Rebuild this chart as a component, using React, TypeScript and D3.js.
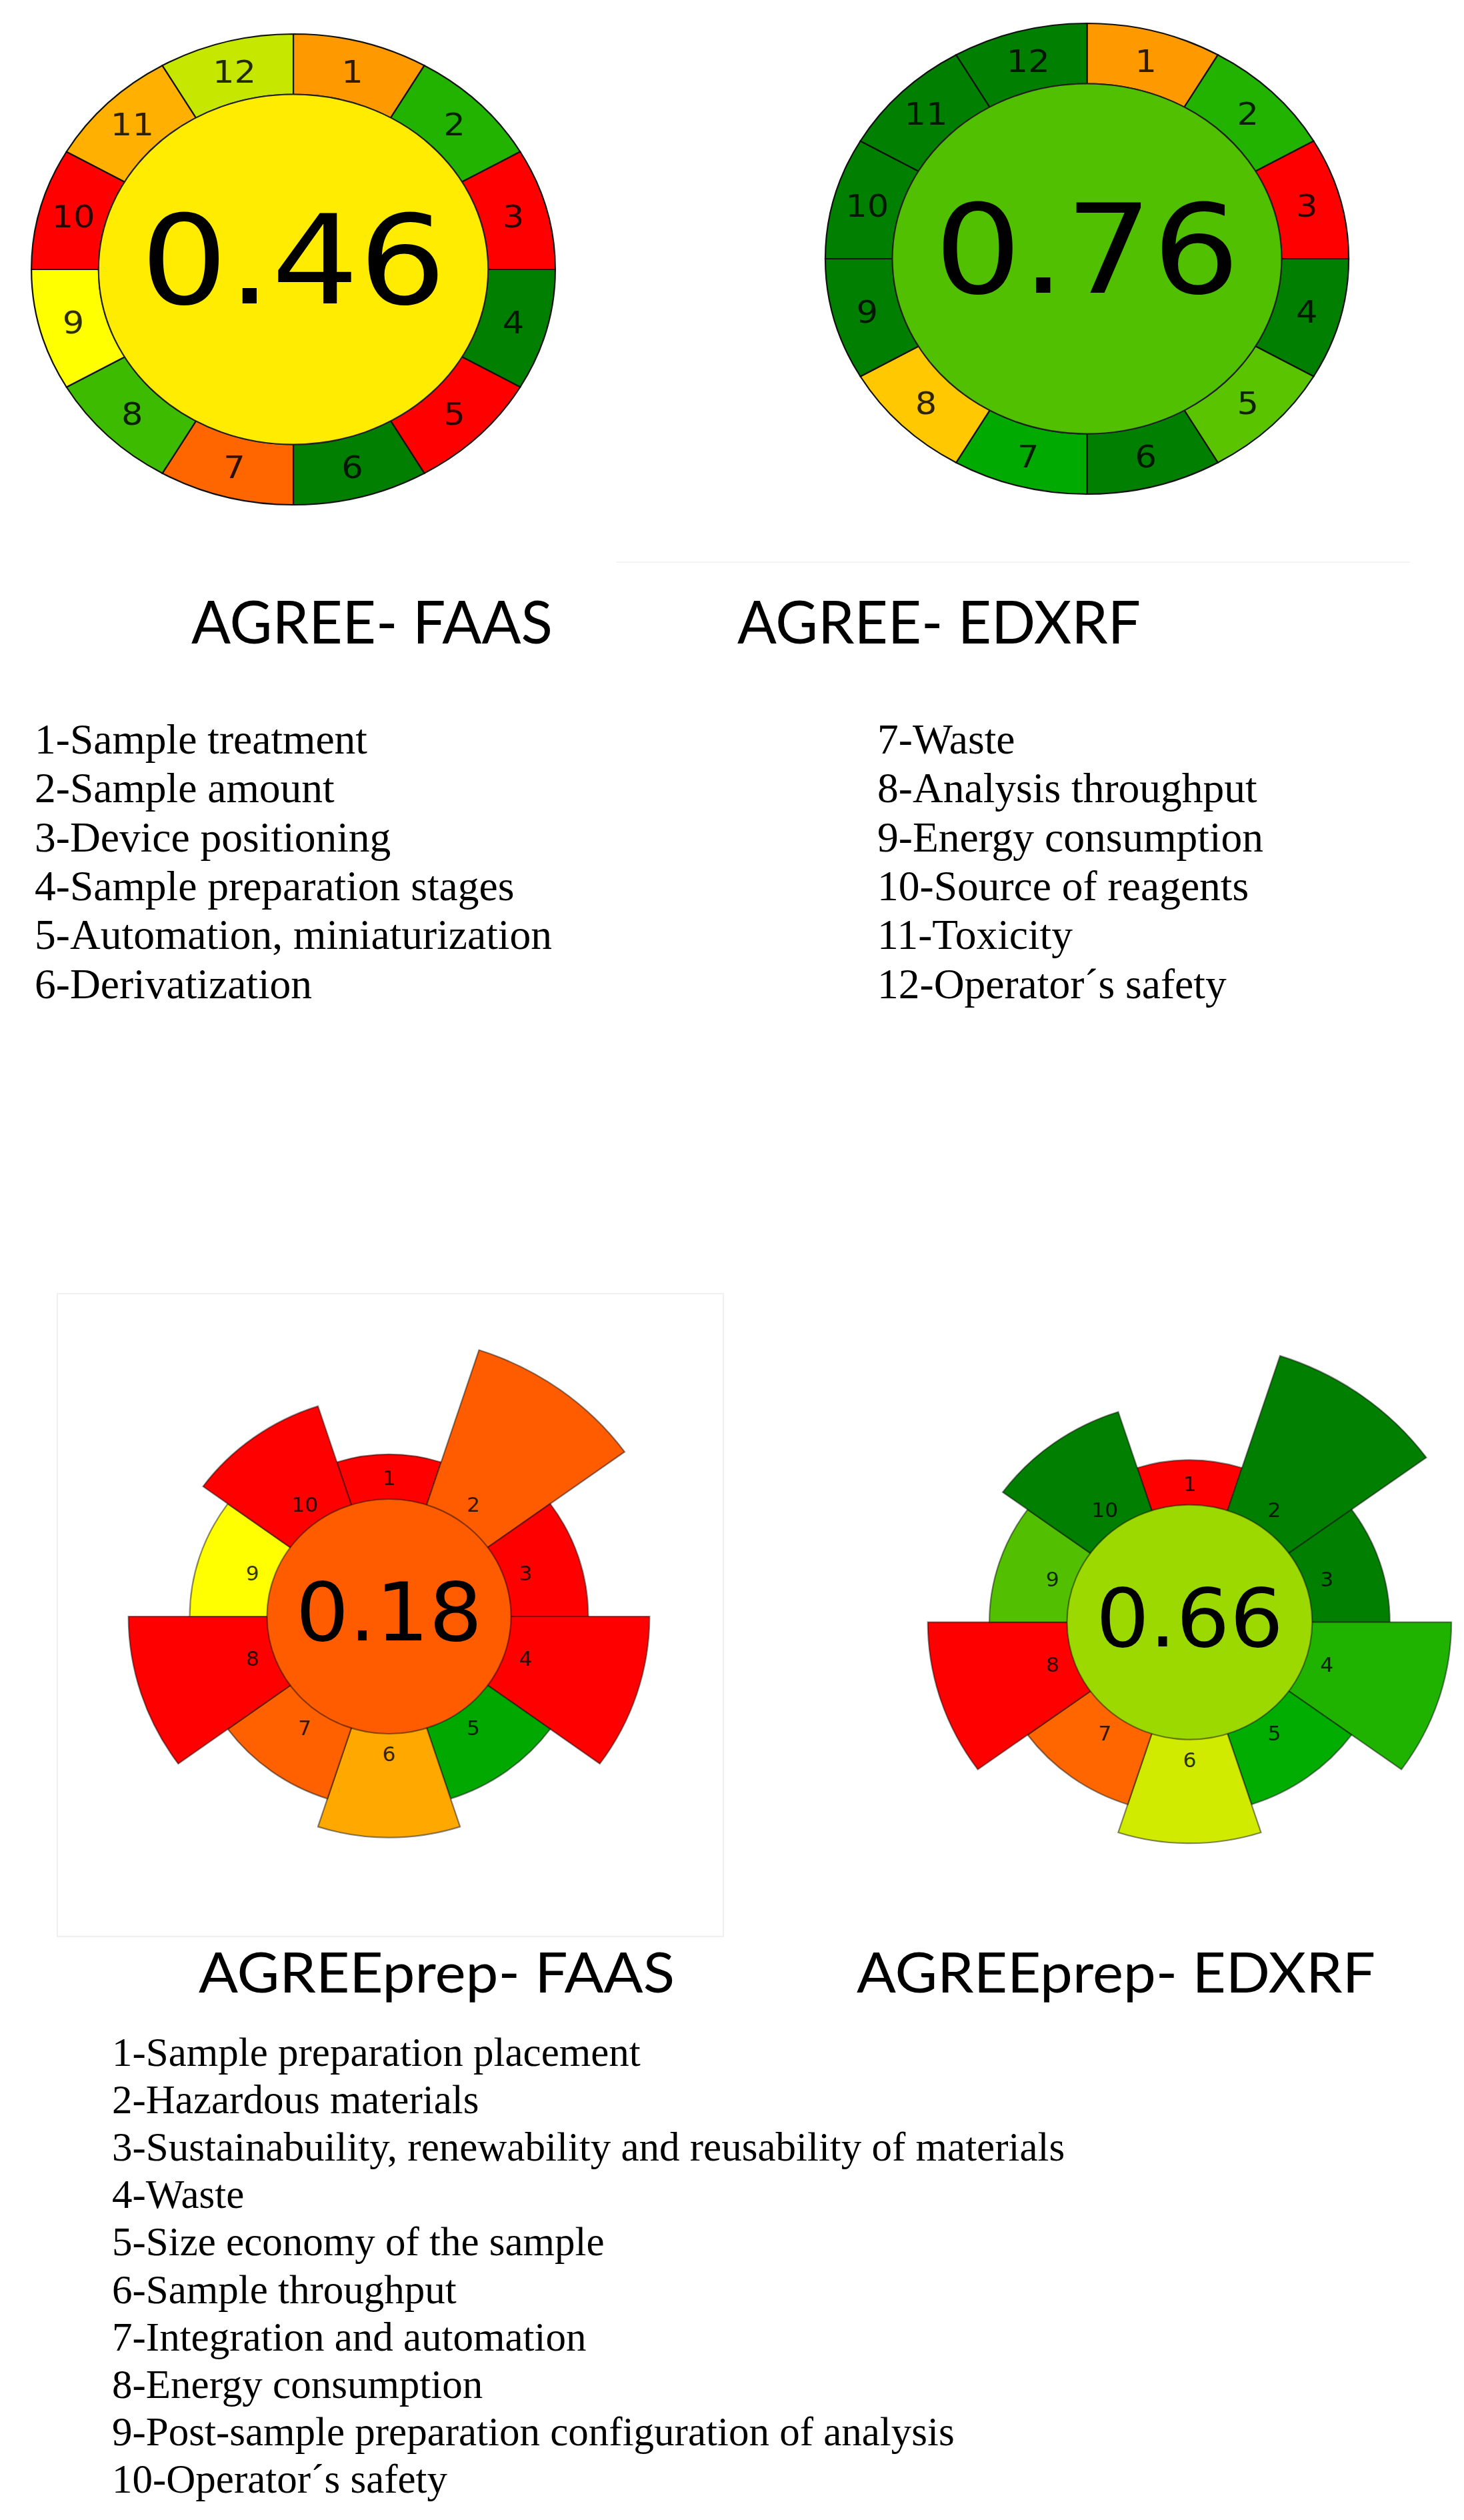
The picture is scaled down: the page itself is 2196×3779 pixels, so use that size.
import React from "react";
import * as d3 from "d3";

// AGREE: 12 criteria, equal segments
const agreeCriteria = ["1", "2", "3", "4", "5", "6", "7", "8", "9", "10", "11", "12"];
const agreeFaasColors = ["#ff9900", "#22b200", "#ff0000", "#007f00", "#ff0000", "#007f00", "#ff6600", "#3dbb00", "#ffff00", "#ff0000", "#ffb000", "#c6e800"];
const agreeEdxrfColors = ["#ff9900", "#22b200", "#ff0000", "#007f00", "#5ac400", "#007f00", "#00aa00", "#ffc800", "#007f00", "#007f00", "#007f00", "#007f00"];
const agreeScores = ["0.46", "0.76"];
const agreeScoreColors = ["#ffec00", "#50c000"];

// AGREEprep: 10 criteria, segment length = weight
const prepCriteria = ["1", "2", "3", "4", "5", "6", "7", "8", "9", "10"];
const prepWeights = [1, 5, 2, 4, 2, 3, 2, 4, 2, 3];
const prepFaasColors = ["#ff0000", "#ff5c00", "#ff0000", "#ff0000", "#00a800", "#ffa800", "#ff6000", "#ff0000", "#ffff00", "#ff0000"];
const prepEdxrfColors = ["#ff0000", "#007f00", "#007f00", "#1fb300", "#00ad00", "#d0ea00", "#ff6600", "#ff0000", "#52c000", "#007f00"];
const prepScores = ["0.18", "0.66"];
const prepScoreColors = ["#ff5c00", "#9cd900"];

const titles = ["AGREE- FAAS", "AGREE- EDXRF", "AGREEprep- FAAS", "AGREEprep- EDXRF"];

const agreeLegendLeft = [
  "1-Sample treatment",
  "2-Sample amount",
  "3-Device positioning",
  "4-Sample preparation stages",
  "5-Automation, miniaturization",
  "6-Derivatization",
];
const agreeLegendRight = [
  "7-Waste",
  "8-Analysis throughput",
  "9-Energy consumption",
  "10-Source of reagents",
  "11-Toxicity",
  "12-Operator´s safety",
];
const prepLegend = [
  "1-Sample preparation placement",
  "2-Hazardous materials",
  "3-Sustainabuility, renewability and reusability of materials",
  "4-Waste",
  "5-Size economy of the sample",
  "6-Sample throughput",
  "7-Integration and automation",
  "8-Energy consumption",
  "9-Post-sample preparation configuration of analysis",
  "10-Operator´s safety",
];

const agreePie = d3.pie<string>().sort(null).value(() => 1);
// segment 1 of AGREEprep is centred on the top
const prepPie = d3
  .pie<string>()
  .sort(null)
  .value(() => 1)
  .startAngle(-Math.PI / 10)
  .endAngle(2 * Math.PI - Math.PI / 10);

const Agree = ({ cx, cy, sx, colors, score, scoreColor }) => {
  const rIn = 262.5;
  const rOut = 353;
  const arcs = agreePie(agreeCriteria);
  const seg = d3.arc<any>().innerRadius(rIn).outerRadius(rOut);
  const lab = d3.arc<any>().innerRadius(307).outerRadius(307);
  return (
    <g transform={`translate(${cx},${cy}) scale(${sx},1)`}>
      {arcs.map((a, i) => (
        <path key={i} d={seg(a)} fill={colors[i]} stroke="#111" strokeWidth={2.2} vectorEffect="non-scaling-stroke" />
      ))}
      <circle r={rIn} fill={scoreColor} stroke="#222" strokeWidth={2} vectorEffect="non-scaling-stroke" />
      {arcs.map((a, i) => {
        const [x, y] = lab.centroid(a);
        return (
          <text key={i} x={x} y={y} textAnchor="middle" dominantBaseline="central"
            fontFamily="DejaVu Sans" fontSize={46} fill="#000" fillOpacity={0.82}>
            {a.data}
          </text>
        );
      })}
      <text x={0} y={51} textAnchor="middle" fontFamily="DejaVu Sans" fontSize={185} fill="#000">
        {score}
      </text>
    </g>
  );
};

const Prep = ({ cx, cy, sx, colors, score, scoreColor }) => {
  const rIn = 176;
  const len = d3.scaleLinear().domain([0, 5]).range([199, 420]);
  const arcs = prepPie(prepCriteria);
  const lab = d3.arc<any>().innerRadius(207).outerRadius(207);
  return (
    <g transform={`translate(${cx},${cy}) scale(${sx},1)`}>
      {arcs.map((a, i) => (
        <path key={i}
          d={d3.arc<any>().innerRadius(rIn - 10).outerRadius(len(prepWeights[i]))(a)}
          fill={colors[i]} stroke="#000" strokeOpacity={0.45} strokeWidth={2.2} vectorEffect="non-scaling-stroke" />
      ))}
      <circle r={rIn} fill={scoreColor} stroke="#000" strokeOpacity={0.45} strokeWidth={2.2} vectorEffect="non-scaling-stroke" />
      {arcs.map((a, i) => {
        const [x, y] = lab.centroid(a);
        return (
          <text key={i} x={x} y={y} textAnchor="middle" dominantBaseline="central"
            fontFamily="DejaVu Sans" fontSize={30} fill="#000" fillOpacity={0.8}>
            {a.data}
          </text>
        );
      })}
      <text x={0} y={36} textAnchor="middle" fontFamily="DejaVu Sans" fontSize={121} fill="#000">
        {score}
      </text>
    </g>
  );
};

export default function App() {
  const topRows = d3.range(agreeLegendLeft.length).map((i) => 1130 + i * 73.3);
  const botRows = d3.range(prepLegend.length).map((i) => 3098 + i * 71.1);
  return (
    <svg width={2196} height={3779} style={{ position: "absolute", left: 0, top: 0, display: "block" }}>
      <rect width={2196} height={3779} fill="#fff" />
      {/* faint frames of the pasted pictures */}
      <rect x={86} y={1940} width={999} height={964} fill="none" stroke="#f0f0f0" strokeWidth={2} />
      <line x1={924} y1={843} x2={2115} y2={843} stroke="#f4f4f4" strokeWidth={2} />

      <Agree cx={440} cy={404} sx={1.113} colors={agreeFaasColors} score={agreeScores[0]} scoreColor={agreeScoreColors[0]} />
      <Agree cx={1630.5} cy={388} sx={1.112} colors={agreeEdxrfColors} score={agreeScores[1]} scoreColor={agreeScoreColors[1]} />
      <Prep cx={583.5} cy={2424} sx={1.04} colors={prepFaasColors} score={prepScores[0]} scoreColor={prepScoreColors[0]} />
      <Prep cx={1784.4} cy={2432.6} sx={1.045} colors={prepEdxrfColors} score={prepScores[1]} scoreColor={prepScoreColors[1]} />

      <g fontFamily="Lato" fill="#000">
        <text x={287} y={965} fontSize={90} textLength={542} lengthAdjust="spacingAndGlyphs">{titles[0]}</text>
        <text x={1106} y={965} fontSize={90} textLength={605} lengthAdjust="spacingAndGlyphs">{titles[1]}</text>
        <text x={298} y={2988} fontSize={84} textLength={714} lengthAdjust="spacingAndGlyphs">{titles[2]}</text>
        <text x={1285} y={2988} fontSize={84} textLength={778} lengthAdjust="spacingAndGlyphs">{titles[3]}</text>
      </g>

      <g fontFamily="Liberation Serif, Times New Roman, serif" fill="#000">
        {agreeLegendLeft.map((t, i) => (
          <text key={t} x={52} y={topRows[i]} fontSize={63.5}>{t}</text>
        ))}
        {agreeLegendRight.map((t, i) => (
          <text key={t} x={1316} y={topRows[i]} fontSize={63.5}>{t}</text>
        ))}
        {prepLegend.map((t, i) => (
          <text key={t} x={168} y={botRows[i]} fontSize={61}>{t}</text>
        ))}
      </g>
    </svg>
  );
}
